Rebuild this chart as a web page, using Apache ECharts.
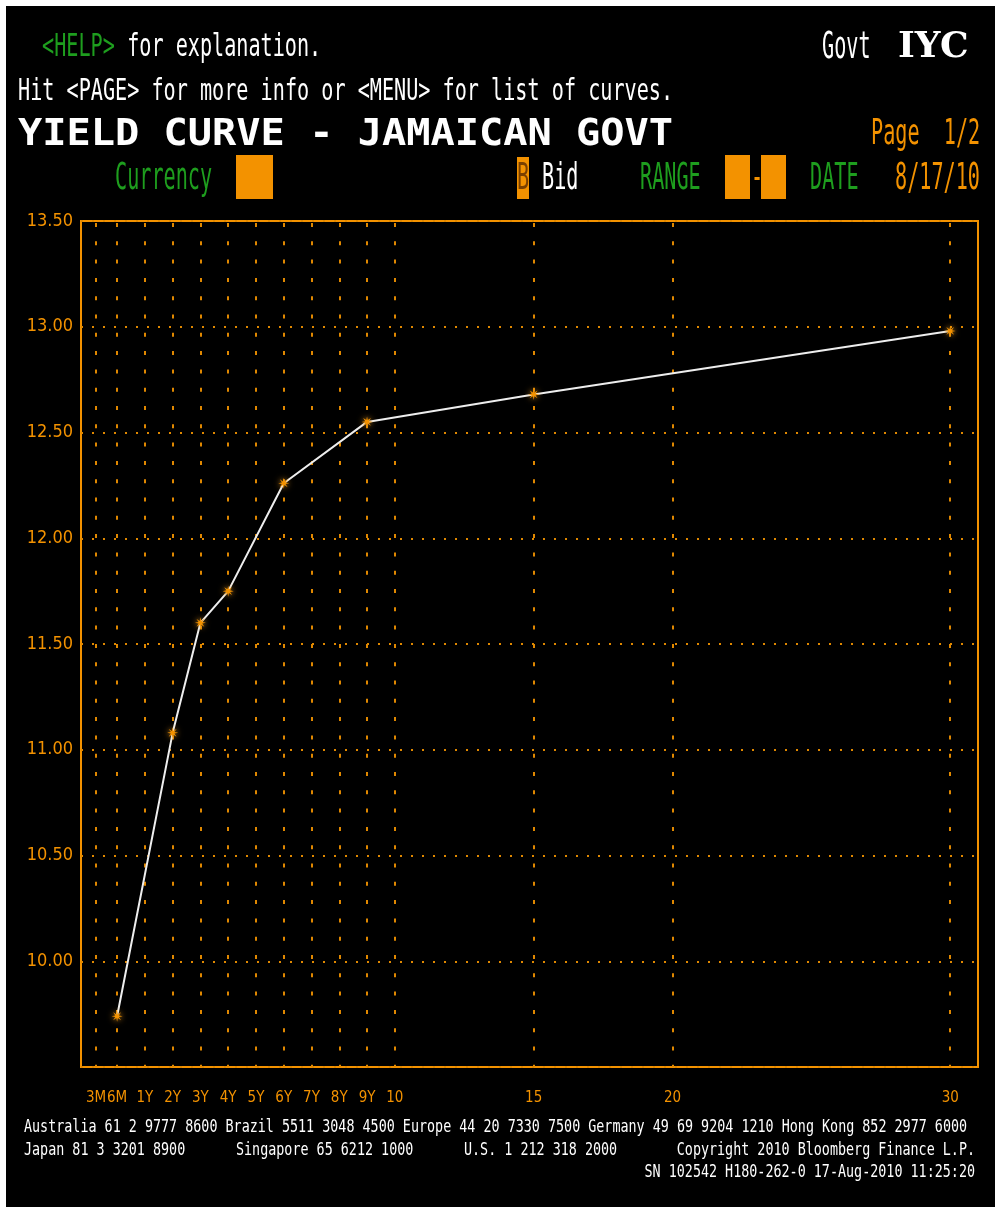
<!DOCTYPE html>
<html>
<head>
<meta charset="utf-8">
<script src="https://cdn.jsdelivr.net/npm/echarts@6/dist/echarts.min.js"></script>
<style>
  html, body { margin: 0; padding: 0; background: #fff; }
  #panel { position: absolute; left: 6px; top: 6px; width: 989px; height: 1201px; background: #000; }
  #chart { position: absolute; left: 0; top: 0; width: 995px; height: 1212px; }
</style>
</head>
<body>
<div id="panel"></div>
<div id="chart"></div>
<script>
// tenor axis: short end is stretched, so each tick has its own axis position
const xTickLabels = ['3M', '6M', '1Y', '2Y', '3Y', '4Y', '5Y', '6Y', '7Y', '8Y', '9Y', '10', '15', '20', '30'];
const xTickPos = [-0.76, 0, 1, 2, 3, 4, 5, 6, 7, 8, 9, 10, 15, 20, 30];

// bid yields
const tenors = ['6M', '2Y', '3Y', '4Y', '6Y', '9Y', '15', '30'];
const yields = [9.74, 11.08, 11.60, 11.75, 12.26, 12.55, 12.68, 12.98];

const ORANGE = '#f39200';
const GRIDC = '#e08800';
const GREEN = '#1e9e1e';
const MONO = "'DejaVu Sans Mono', 'Liberation Mono', monospace";
const NARROW = "'Liberation Sans Narrow', 'DejaVu Sans Condensed', 'Liberation Sans', sans-serif";

const CW = 12.13; // header char cell
function txt(s, x, y, color, size, cell, opt) {
  opt = opt || {};
  return {
    type: 'text', x: x, y: y, scaleX: cell / (0.602 * size), silent: true,
    style: {
      text: s, fill: color,
      font: (opt.bold ? 'bold ' : '') + size + 'px ' + (opt.family || MONO),
      align: opt.align || 'left', verticalAlign: 'middle'
    }
  };
}
function box(x0, y0, x1, y1, color) {
  return { type: 'rect', silent: true, shape: { x: x0, y: y0, width: x1 - x0, height: y1 - y0 }, style: { fill: color } };
}

const FW = 8.06; // footer char cell
const graphics = [
  txt('<HELP>', 42, 48, GREEN, 32, CW),
  txt(' for explanation.', 115, 48, '#fff', 32, CW),
  txt('Govt', 822, 48, '#fff', 38, CW),
  { type: 'text', x: 898, y: 48, silent: true,
    style: { text: 'IYC', fill: '#fff', font: "bold 36px 'DejaVu Serif', serif", verticalAlign: 'middle' } },
  txt('Hit <PAGE> for more info or <MENU> for list of curves.', 18, 92, '#fff', 31, CW),
  txt('YIELD CURVE - JAMAICAN GOVT', 18, 135, '#fff', 38, 24.26, { bold: true }),
  txt('Page  1/2', 871, 135, ORANGE, 35, CW),
  txt('Currency', 115, 179, GREEN, 38, CW),
  box(236, 155, 273, 199, ORANGE),
  box(517, 157, 529, 199, ORANGE),
  txt('B', 517, 179, '#7a4000', 38, CW),
  txt('Bid', 542, 179, '#fff', 38, CW),
  txt('RANGE', 640, 179, GREEN, 38, CW),
  box(725, 155, 750, 199, ORANGE),
  txt('-', 751, 179, ORANGE, 38, CW),
  box(761, 155, 786, 199, ORANGE),
  txt('DATE', 810, 179, GREEN, 38, CW),
  txt('8/17/10', 895, 179, ORANGE, 38, CW),
  txt('Australia 61 2 9777 8600 Brazil 5511 3048 4500 Europe 44 20 7330 7500 Germany 49 69 9204 1210 Hong Kong 852 2977 6000', 24, 1128, '#fff', 17, FW),
  txt('Japan 81 3 3201 8900', 24, 1151, '#fff', 17, FW),
  txt('Singapore 65 6212 1000', 236, 1151, '#fff', 17, FW),
  txt('U.S. 1 212 318 2000', 464, 1151, '#fff', 17, FW),
  txt('Copyright 2010 Bloomberg Finance L.P.', 975, 1151, '#fff', 17, FW, { align: 'right' }),
  txt('SN 102542 H180-262-0 17-Aug-2010 11:25:20', 975, 1173, '#fff', 17, FW, { align: 'right' })
];

const posOf = t => xTickPos[xTickLabels.indexOf(t)];
const curve = tenors.map((t, i) => [posOf(t), yields[i]]);

const STAR = 'path://M10 5L6.66 5.69L8.54 8.54L5.69 6.66L5 10L4.31 6.66L1.46 8.54L3.34 5.69L0 5L3.34 4.31L1.46 1.46L4.31 3.34L5 0L5.69 3.34L8.54 1.46L6.66 4.31Z';

const chart = echarts.init(document.getElementById('chart'), null, { renderer: 'canvas' });
chart.setOption({
  backgroundColor: 'transparent',
  animation: false,
  graphic: graphics,
  grid: {
    left: 81, right: 17, top: 221, bottom: 145,
    show: true, borderColor: ORANGE, borderWidth: 2, backgroundColor: 'transparent'
  },
  xAxis: {
    type: 'value', min: -1.3, max: 31.0,
    axisLine: { show: false },
    axisTick: { show: false, customValues: xTickPos },
    axisLabel: {
      customValues: xTickPos, color: ORANGE, fontSize: 15, fontFamily: NARROW, margin: 24,
      interval: 0, hideOverlap: false, showMinLabel: true, showMaxLabel: true,
      formatter: v => xTickLabels[xTickPos.indexOf(v)] || ''
    },
    splitLine: { show: true, lineStyle: { color: GRIDC, width: 2, type: [4, 14.3], dashOffset: -2 } }
  },
  yAxis: {
    type: 'value', min: 9.5, max: 13.5, interval: 0.5,
    axisLine: { show: false },
    axisTick: { show: false },
    axisLabel: {
      color: ORANGE, fontSize: 18, fontFamily: NARROW, margin: 8,
      formatter: v => (v <= 9.5 ? '' : v.toFixed(2))
    },
    splitLine: { show: true, lineStyle: { color: GRIDC, width: 2, type: [2, 9] } }
  },
  series: [{
    type: 'line', data: curve, smooth: false,
    symbol: STAR, symbolSize: 11, showAllSymbol: true,
    lineStyle: { color: '#eeeeee', width: 2 },
    itemStyle: { color: ORANGE, shadowBlur: 6, shadowColor: 'rgba(255,170,40,0.9)' },
    z: 5
  }]
});
</script>
</body>
</html>
